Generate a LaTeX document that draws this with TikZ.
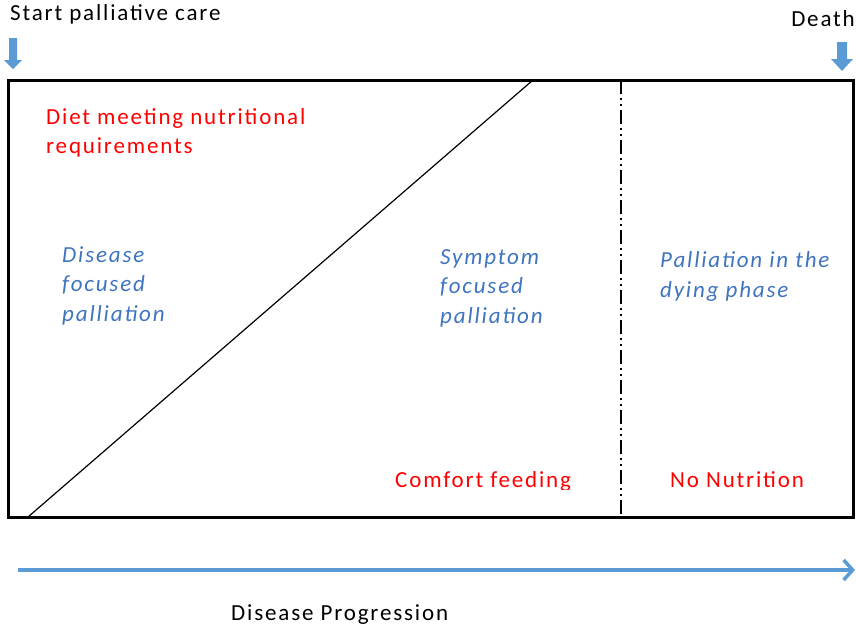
\documentclass[tikz,border=0pt]{standalone}
\usepackage{fontspec}
\setmainfont{Carlito}[LetterSpace=8]
\usetikzlibrary{arrows.meta}
\definecolor{flowblue}{HTML}{5B9BD5}
\definecolor{phaseblue}{HTML}{3F74BF}
\definecolor{nutred}{HTML}{FF0000}
\begin{document}
\begin{tikzpicture}[x=1pt,y=-1pt,
  lbl/.style={inner sep=0pt, anchor=base west, align=left,
    font=\fontsize{23}{28.5}\selectfont},
  nutlbl/.style={lbl, text=nutred},
  phaselbl/.style={lbl, text=phaseblue,
    font=\fontsize{23}{29.5}\selectfont\itshape},
  frame/.style={line width=3pt},
  divider/.style={line width=1.5pt,
    dash pattern=on 14pt off 4pt on 2pt off 4pt on 2pt off 4pt},
  flow/.style={draw=flowblue, line width=3.5pt,
    -{Straight Barb[length=9pt,width=20pt,line width=3.5pt]}},
  marker/.style={fill=flowblue, draw=none}]
\useasboundingbox (0,0) rectangle (856,630);

% time-line markers
\node[lbl] (start) at (10,20) {Start palliative care};
\node[lbl, anchor=base east] (death) at (855,26) {Death};
\fill[marker] (9,38) -- (17,38) -- (17,60) -- (22,60) -- (13,69)
  -- (4,60) -- (9,60) -- cycle;
\fill[marker] (837,42) -- (847,42) -- (847,59) -- (853,59) -- (842,71)
  -- (831,59) -- (837,59) -- cycle;

% main frame
\coordinate (tl) at (8,80);
\coordinate (br) at (853,517);
\draw[frame] (tl) rectangle (br);

% transition from nutrition to comfort
\coordinate (diagA) at (28,517);
\coordinate (diagB) at (533,80);
\draw[line width=1.2pt] (diagA) -- (diagB);

% dying phase boundary
\coordinate (divT) at (621,80);
\coordinate (divB) at (621,517);
\draw[divider] (divT) -- (divB);

% labels inside the frame (anchored on their last line)
\node[nutlbl] (diet) at (46,153) {Diet meeting nutritional\\requirements};
\node[phaselbl] (disease) at (62,321) {Disease\\focused\\palliation};
\node[phaselbl] (symptom) at (440,323) {Symptom\\focused\\palliation};
\node[phaselbl] (dying) at (660,297) {Palliation in the\\dying phase};
\begin{scope}
  \clip (380,440) rectangle (610,489);
  \node[nutlbl] (comfort) at (395,487) {Comfort feeding};
\end{scope}
\node[nutlbl] (nonut) at (670,487) {No Nutrition};

% progression axis
\coordinate (flowA) at (18,570);
\coordinate (flowB) at (855,570);
\draw[flow] (flowA) -- (flowB);
\node[lbl] (prog) at (231,620) {Disease Progression};
\end{tikzpicture}
\end{document}
